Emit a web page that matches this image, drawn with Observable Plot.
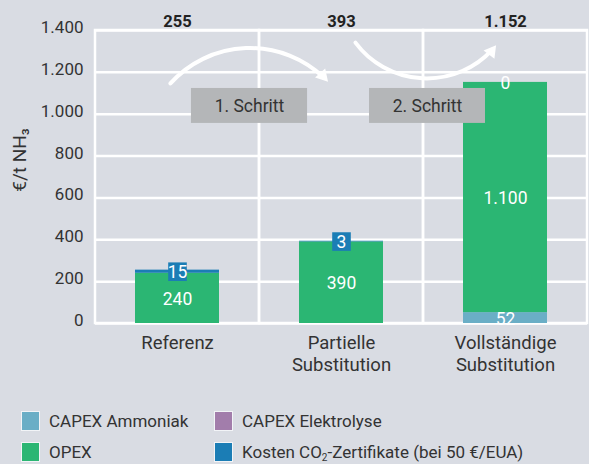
<!DOCTYPE html>
<html><head><meta charset="utf-8">
<script src="https://cdn.jsdelivr.net/npm/d3@7"></script>
<script src="https://cdn.jsdelivr.net/npm/@observablehq/plot@0.6"></script>
<style>
html,body{margin:0;padding:0;background:#d9dce3;}
body{width:589px;height:464px;overflow:hidden;position:relative;font-family:Roboto,"DejaVu Sans",sans-serif;color:#333;}
#chart{position:absolute;left:0;top:0;}
#legend{position:absolute;left:21px;top:410px;display:grid;grid-template-columns:193px auto;row-gap:9px;font-size:17px;color:#333;}
.item{display:flex;align-items:center;height:22px;}
.sw{width:17px;height:18px;border:1px solid #f2f4f7;margin-right:9px;box-sizing:content-box;}
</style></head>
<body><div id="chart"></div><div id="legend"></div>
<script>
// ---- data ----
const categories = ["Referenz", "Partielle Substitution", "Vollständige Substitution"];
const xLabels = ["Referenz", "Partielle\nSubstitution", "Vollständige\nSubstitution"];
const seriesNames = ["CAPEX Ammoniak", "CAPEX Elektrolyse", "OPEX", "Kosten CO₂-Zertifikate (bei 50 €/EUA)"];
const seriesColors = ["#6aaec6", "#a27dab", "#2bb673", "#1b7db5"];
const capexAmmoniak = [0, 0, 52];
const capexElektrolyse = [0, 0, 0];
const opex = [240, 390, 1100];
const co2 = [15, 3, 0];
const totals = [255, 393, 1152];
const yTicks = [0, 200, 400, 600, 800, 1000, 1200, 1400];
const yLabel = "€/t NH₃";
// annotations (x in category units: category i spans [i, i+1]; y in €/t)
const stepLabels = ["1. Schritt", "2. Schritt"];
const stepX1 = [0.585, 1.671];
const stepX2 = [1.293, 2.378];
const stepY1 = [956, 956];
const stepY2 = [1123, 1123];
const arrowX1 = [0.457, 1.585];
const arrowX2 = [1.427, 2.451];
const arrowY1 = [1147, 1342];
const arrowY2 = [1147, 1338];
const arrowBend = [48, -53];

// ---- build tables ----
const CO2 = seriesNames[3];
const seriesValues = [capexAmmoniak, capexElektrolyse, opex, co2];
const stacked = [];
categories.forEach((c, i) => {
  let acc = 0;
  seriesNames.forEach((s, j) => {
    const v = seriesValues[j][i];
    stacked.push({i, cat: c, series: s, value: v, y1: acc, y2: acc + v});
    acc += v;
  });
});
const locale = d3.formatLocale({decimal: ",", thousands: ".", grouping: [3], currency: ["", "€"]});
const fmt = locale.format(",d");
const cats = categories.map((c, i) => ({i, cat: c, total: totals[i]}));
const steps = stepLabels.map((t, k) => ({label: t, x1: stepX1[k], x2: stepX2[k], y1: stepY1[k], y2: stepY2[k]}));
const arrows = arrowX1.map((x, k) => ({x1: x, x2: arrowX2[k], y1: arrowY1[k], y2: arrowY2[k], bend: arrowBend[k]}));
const labelled = stacked.filter(d => d.value > 0 || d.series === CO2);
const boxed = stacked.filter(d => d.series === CO2 && d.value > 0);
const mid = d => (d.y1 + d.y2) / 2;
const center = d => d.i + 0.5;

// filled arrowhead: triangle symbol, tip at the arrow end, pointing along the end tangent
const headR = 6.5;
const headTip = 2 * Math.sqrt(Math.PI * headR * headR / (Math.sqrt(3) * 3));
const headMarks = arrows.map(a => {
  const dir = (a.bend > 0 ? 1 : -1) * Math.abs(a.bend); // clockwise deviation (deg) of end tangent from chord
  const ang = dir * Math.PI / 180;
  const ux = Math.cos(ang), uy = Math.sin(ang);
  return Plot.dot([a], {x: "x2", y: "y2", symbol: "triangle2", r: headR, fill: "white",
    rotate: 90 + dir, dx: -headTip * ux, dy: -headTip * uy});
});

const plot = Plot.plot({
  width: 589, height: 385,
  marginLeft: 95, marginRight: 2, marginTop: 30, marginBottom: 62,
  style: {background: "transparent", fontFamily: "Roboto, 'DejaVu Sans', sans-serif", color: "#333"},
  x: {domain: [0, categories.length]},
  y: {domain: [0, 1400]},
  color: {domain: seriesNames, range: seriesColors},
  marks: [
    Plot.ruleY(yTicks, {stroke: "white", strokeWidth: 2.5}),
    Plot.rect(cats, {x1: "i", x2: d => d.i + 1, y1: 0, y2: 1400, fill: "none", stroke: "white", strokeWidth: 2.5}),
    Plot.rectY(stacked, {x1: "i", x2: d => d.i + 1, y1: "y1", y2: "y2", fill: "series", insetLeft: 40, insetRight: 40}),
    Plot.rect(steps, {x1: "x1", x2: "x2", y1: "y1", y2: "y2", fill: "#b4b6b8"}),
    Plot.text(steps, {x: d => (d.x1 + d.x2) / 2, y: d => (d.y1 + d.y2) / 2, text: "label", fontSize: 17.5, fill: "#333"}),
    ...arrows.map(a => Plot.arrow([a], {x1: "x1", x2: "x2", y1: "y1", y2: "y2", bend: a.bend, stroke: "white", strokeWidth: 4, headLength: 0, insetEnd: 8})),
    ...headMarks,
    Plot.dot(boxed, {x: center, y: mid, symbol: "square", r: 10.5, fill: seriesColors[3]}),
    Plot.text(labelled, {x: center, y: mid, text: d => fmt(d.value), fill: "white", fontSize: 17.5, dy: 1}),
    Plot.text(cats, {x: center, text: d => fmt(d.total), frameAnchor: "top", dy: -15, fontWeight: "bold", fontSize: 16.5, fill: "#222"}),
    Plot.text([yLabel], {text: d => d, frameAnchor: "left", textAnchor: "middle", dx: -76, dy: -17, rotate: -90, fontSize: 19, fill: "#333"}),
    Plot.axisY({ticks: yTicks, tickFormat: fmt, tickSize: 0, tickPadding: 12, fontSize: 17, dy: -3, label: null}),
    Plot.axisX({ticks: categories.map((c, i) => i + 0.5), tickFormat: v => xLabels[Math.floor(v)], tickSize: 0, tickPadding: 10, fontSize: 18.5, label: null, lineHeight: 1.2})
  ]
});
document.getElementById("chart").appendChild(plot);

const legend = document.getElementById("legend");
seriesNames.forEach((name, j) => {
  const it = document.createElement("div");
  it.className = "item";
  const sw = document.createElement("span");
  sw.className = "sw";
  sw.style.background = seriesColors[j];
  it.appendChild(sw);
  const tx = document.createElement("span");
  if (name === CO2) tx.innerHTML = "Kosten CO<sub style='font-size:10px;vertical-align:-3px'>2</sub>-Zertifikate (bei 50 €/EUA)";
  else tx.textContent = name;
  it.appendChild(tx);
  legend.appendChild(it);
});
</script></body></html>
